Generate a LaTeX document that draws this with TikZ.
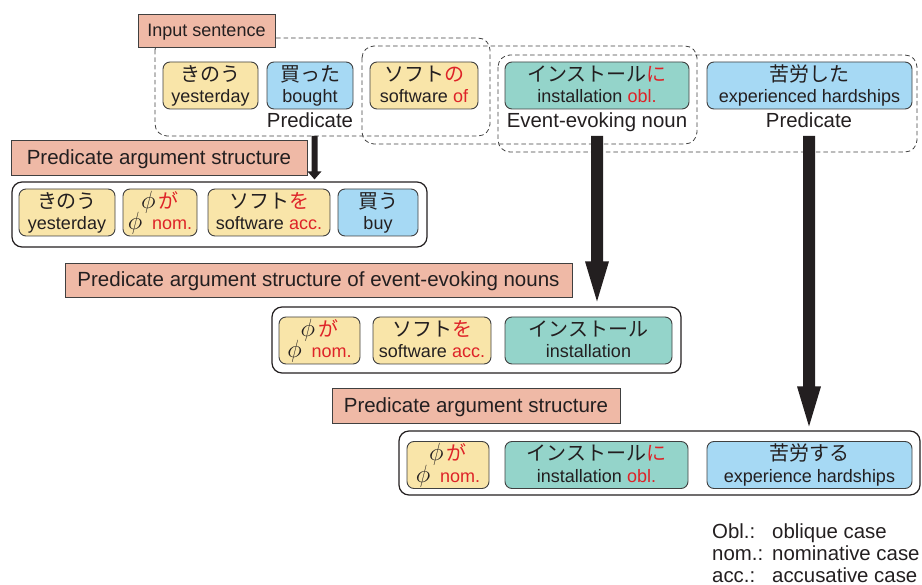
\documentclass[tikz,border=0pt]{standalone}
\usepackage{fontspec}
\setmainfont{Liberation Sans}
\newfontfamily\jpf{Noto Sans CJK JP}
\usetikzlibrary{calc}
\definecolor{salmon}{RGB}{239,185,166}
\definecolor{yel}{RGB}{249,229,169}
\definecolor{blu}{RGB}{166,217,244}
\definecolor{tea}{RGB}{148,212,202}
\definecolor{redt}{RGB}{222,35,40}
\definecolor{ink}{RGB}{35,31,32}
\definecolor{edge}{RGB}{64,64,64}
\newcommand\rt[1]{\textcolor{redt}{#1}}
\newcommand\bigphi{{\fontsize{23}{26}\selectfont$\phi$}}
\newcommand\wbox[7]{%
  \node[wb,fill=#5,minimum width=#4pt] (#1) at (#2,#3) {};
  \node[jpt] (#1j) at ($(#1.center)+(0,-4)$) {#6};
  \node[ent] (#1e) at ($(#1.center)+(0,17.5)$) {#7};
}
\newcommand\fatarrow[5]{%
  \fill[ink] ($(#1)+(-#3,0)$) -- ($(#2)+(-#3,-#5)$) -- ($(#2)+(-#4,-#5)$) -- (#2)
    -- ($(#2)+(#4,-#5)$) -- ($(#2)+(#3,-#5)$) -- ($(#1)+(#3,0)$) -- cycle;
}
\begin{document}
\begin{tikzpicture}[x=1pt,y=-1pt,
  wb/.style={draw=edge,line width=0.9pt,rounded corners=7pt,minimum height=47pt,inner sep=0pt},
  frame/.style={draw=ink,line width=1.2pt,rounded corners=10pt,inner sep=0pt},
  lab/.style={draw=edge,fill=salmon,line width=0.9pt,inner sep=0pt,text=ink,
    font=\fontsize{20.5}{24}\selectfont,text height=14pt,text depth=0pt},
  jpt/.style={anchor=base,inner sep=0pt,text=ink,font=\jpf\fontsize{20}{24}\selectfont},
  ent/.style={anchor=base,inner sep=0pt,text=ink,font=\fontsize{18}{22}\selectfont},
  captxt/.style={anchor=base,inner sep=0pt,text=ink,font=\fontsize{20.4}{24}\selectfont},
  dreg/.style={draw=edge,line width=0.8pt,dash pattern=on 4.5pt off 3pt,rounded corners=12pt}
]
\useasboundingbox (0,0) rectangle (922,585);

% dashed regions
\draw[dreg] (155,38) rectangle (490,136);
\draw[dreg] (362,46) rectangle (697,144);
\draw[dreg] (498,55) rectangle (917,152);

% input label
\node[lab,font=\fontsize{18}{22}\selectfont,text height=12.5pt,minimum width=137pt,minimum height=33pt] (inp) at (206.5,30.5) {Input sentence};

% top row
\wbox{a1}{210.5}{85.5}{95}{yel}{きのう}{yesterday}
\wbox{a2}{310}{85.5}{86}{blu}{買った}{bought}
\wbox{a3}{424}{85.5}{108}{yel}{ソフト\rt{の}}{software \rt{of}}
\wbox{a4}{597}{85.5}{184}{tea}{インストール\rt{に}}{installation \rt{obl.}}
\wbox{a5}{809.5}{85.5}{205}{blu}{苦労した}{experienced hardships}
\node[captxt] (c1) at (310,128) {Predicate};
\node[captxt] (c2) at (597,128) {Event-evoking noun};
\node[captxt] (c3) at (809,128) {Predicate};

% PAS 1
\node[lab,minimum width=296pt,minimum height=35pt] (p1) at (159,157.5) {Predicate argument structure};
\node[frame,minimum width=415pt,minimum height=65pt] (f1) at (219.5,214.5) {};
\wbox{b1}{67}{212.5}{96}{yel}{きのう}{yesterday}
\wbox{b2}{160}{212.5}{74}{yel}{\bigphi\,\rt{が}}{\bigphi\ \ \rt{nom.}}
\wbox{b3}{269}{212.5}{122}{yel}{ソフト\rt{を}}{software \rt{acc.}}
\wbox{b4}{378}{212.5}{80}{blu}{買う}{buy}

% PAS 2
\node[lab,minimum width=507pt,minimum height=34pt] (p2) at (318.5,280) {Predicate argument structure of event-evoking nouns};
\node[frame,minimum width=409pt,minimum height=66pt] (f2) at (476.5,340) {};
\wbox{c4}{319.5}{340.5}{81}{yel}{\bigphi\,\rt{が}}{\bigphi\ \ \rt{nom.}}
\wbox{c5}{432}{340.5}{118}{yel}{ソフト\rt{を}}{software \rt{acc.}}
\wbox{c6}{588.5}{340.5}{167}{tea}{インストール}{installation}

% PAS 3
\node[lab,minimum width=288pt,minimum height=35pt] (p3) at (476,405.5) {Predicate argument structure};
\node[frame,minimum width=521pt,minimum height=64pt] (f3) at (659.5,463) {};
\wbox{d1}{448}{465}{82}{yel}{\bigphi\,\rt{が}}{\bigphi\ \ \rt{nom.}}
\wbox{d2}{596.5}{465}{183}{tea}{インストール\rt{に}}{installation \rt{obl.}}
\wbox{d3}{809.5}{465}{205}{blu}{苦労する}{experience hardships}

% arrows
\coordinate (s0) at (314.5,136);
\coordinate (t0) at ($(f1.north -| s0)+(0,-2)$);
\coordinate (s1) at (597,136);
\coordinate (t1) at ($(f2.north -| s1)+(0,-5)$);
\coordinate (s2) at (809,136);
\coordinate (t2) at ($(f3.north -| s2)+(0,-4)$);
\fatarrow{s0}{t0}{3}{7}{8}
\fatarrow{s1}{t1}{6}{12}{40}
\fatarrow{s2}{t2}{6}{12}{40}

% legend
\node[captxt,anchor=base west] (l1a) at (712,538) {Obl.:};
\node[captxt,anchor=base west] (l1b) at (772,538) {oblique case};
\node[captxt,anchor=base west] (l2a) at (712,560) {nom.:};
\node[captxt,anchor=base west] (l2b) at (772,560) {nominative case};
\node[captxt,anchor=base west] (l3a) at (712,582) {acc.:};
\node[captxt,anchor=base west] (l3b) at (772,582) {accusative case};
\end{tikzpicture}
\end{document}
